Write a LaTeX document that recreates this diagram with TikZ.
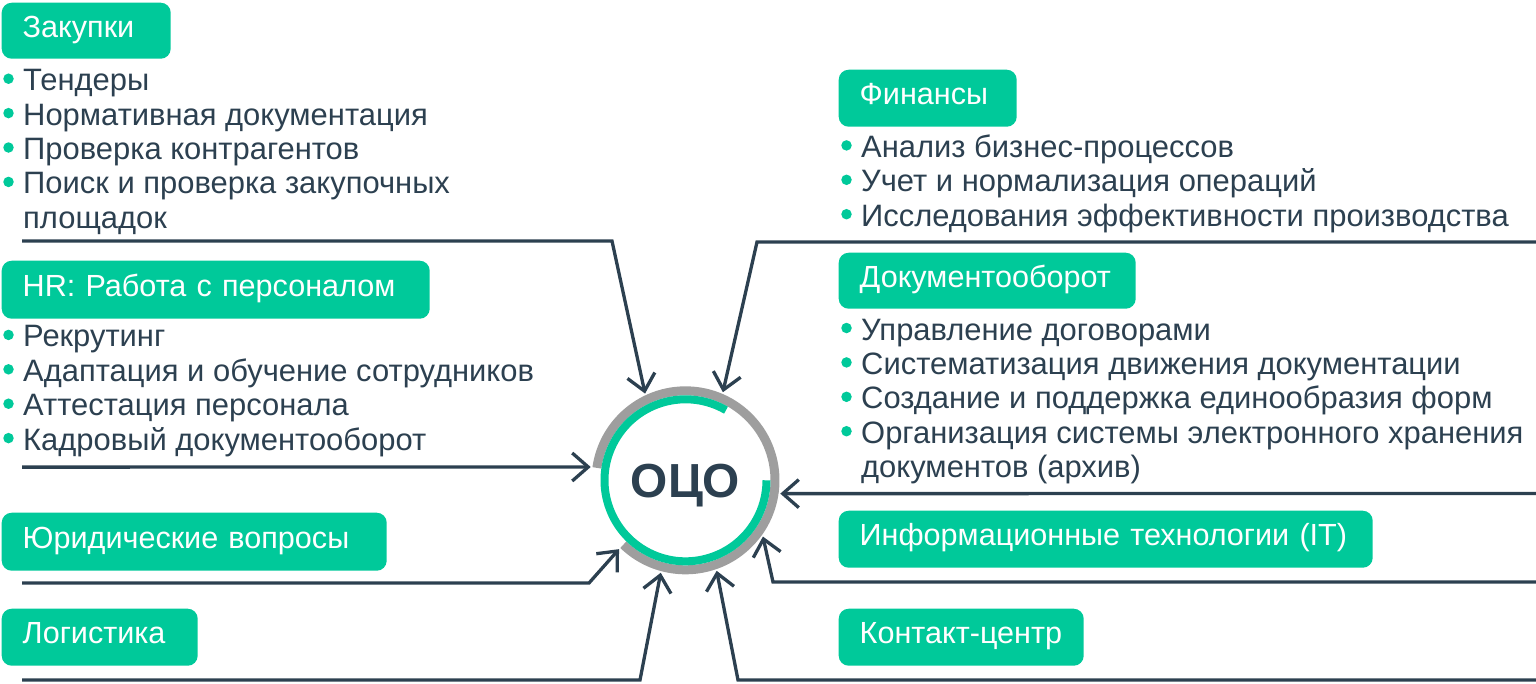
\documentclass[tikz,border=0pt]{standalone}
\usepackage{fontspec}
\setmainfont{Liberation Sans}
\usetikzlibrary{positioning,calc,arrows.meta}
\definecolor{OCOGreen}{RGB}{0,201,154}
\definecolor{OCODark}{RGB}{44,64,80}
\definecolor{OCOGray}{RGB}{158,158,158}

\begin{document}
\begin{tikzpicture}[
    % green header box of a department
    catbox/.style={
        fill=OCOGreen, rounded corners=0.1cm,
        anchor=north west, inner xsep=0.21cm, inner ysep=0pt,
        text=white, align=left,
        font=\fontsize{8.7}{9.8}\selectfont,
        text height=0.215cm, text depth=0.08cm
    },
    % one line of a task list
    item/.style={
        anchor=base west, inner sep=0pt,
        text=OCODark, font=\fontsize{8.8}{9.8}\selectfont
    },
    % green list bullet
    dot/.style={
        circle, fill=OCOGreen, inner sep=0pt, minimum size=0.105cm
    },
    % connector into the centre
    link/.style={
        draw=OCODark, line width=0.033cm,
        -{Straight Barb[length=0.16cm,width=0.28cm]}
    }
]
    \useasboundingbox (0,0) rectangle (15.36,-6.83);

    % --- centre ---
    \node[circle, minimum size=1.9cm, inner sep=0pt, text=OCODark,
          font=\bfseries\fontsize{13.6}{15}\selectfont,
          text height=0.34cm, text depth=0pt] (oco) at (6.855,-4.803) {ОЦО};
    \draw[OCOGray, line width=0.09cm] (oco.center) ++(226:0.895)
        arc[start angle=226, end angle=532, radius=0.895];
    \draw[OCOGreen, line width=0.08cm] (oco.center) ++(60:0.81)
        arc[start angle=60, end angle=360, radius=0.81];

    % --- left column ---
    \node[catbox, text width=1.27cm, minimum height=0.56cm] (zak) at (0.01,-0.02) {Закупки};
    \foreach \t [count=\i] in {Тендеры, Нормативная документация, Проверка контрагентов, Поиск и проверка закупочных} {
        \node[item] (zak\i) at (0.225,{-0.563-\i*0.344}) {\t};
        \node[dot] (zakdot\i) at ($(zak\i.base west)+(-0.14,0.12)$) {};
    }
    \node[item] (zak5) at (0.225,-2.283) {площадок};

    \node[catbox, text width=3.86cm, minimum height=0.58cm] (hr) at (0.01,-2.60) {HR: Работа с персоналом};
    \foreach \t [count=\i] in {Рекрутинг, Адаптация и обучение сотрудников, Аттестация персонала, Кадровый документооборот} {
        \node[item] (hr\i) at (0.225,{-3.125-\i*0.344}) {\t};
        \node[dot] (hrdot\i) at ($(hr\i.base west)+(-0.14,0.12)$) {};
    }

    \node[catbox, text width=3.43cm, minimum height=0.58cm] (jur) at (0.01,-5.12) {Юридические вопросы};
    \node[catbox, text width=1.54cm, minimum height=0.57cm] (log) at (0.01,-6.08) {Логистика};

    % --- right column ---
    \node[catbox, text width=1.36cm, minimum height=0.57cm] (fin) at (8.38,-0.69) {Финансы};
    \foreach \t [count=\i] in {Анализ бизнес-процессов, Учет и нормализация операций, Исследования эффективности производства} {
        \node[item] (fin\i) at (8.605,{-1.23-\i*0.344}) {\t};
        \node[dot] (findot\i) at ($(fin\i.base west)+(-0.14,0.12)$) {};
    }

    \node[catbox, text width=2.55cm, minimum height=0.56cm] (doc) at (8.38,-2.52) {Документооборот};
    \foreach \t [count=\i] in {Управление договорами, Систематизация движения документации, Создание и поддержка единообразия форм, Организация системы электронного хранения} {
        \node[item] (doc\i) at (8.605,{-3.056-\i*0.344}) {\t};
        \node[dot] (docdot\i) at ($(doc\i.base west)+(-0.14,0.12)$) {};
    }
    \node[item] (doc5) at (8.605,-4.776) {документов (архив)};

    \node[catbox, text width=4.92cm, minimum height=0.57cm] (it) at (8.38,-5.10) {Информационные технологии (IT)};
    \node[catbox, text width=2.03cm, minimum height=0.57cm] (kc) at (8.38,-6.08) {Контакт-центр};

    % --- connectors ---
    \coordinate (zakend) at (0.22,-2.41);
    \coordinate (hrend)  at (0.22,-4.671);
    \coordinate (jurend) at (0.22,-5.83);
    \coordinate (logend) at (0.22,-6.80);
    \coordinate (finend) at (15.36,-2.42);
    \coordinate (docend) at (15.36,-4.935);
    \coordinate (itend)  at (15.36,-5.82);
    \coordinate (kcend)  at (15.36,-6.80);

    \draw[link] (zakend) -- ++(5.90,0) -- (oco.115);
    \draw[link] (hrend) -- (oco.172);
    \draw[link] (jurend) -- ++(5.67,0) -- (oco.226);
    \draw[link] (logend) -- ++(6.18,0) -- (oco.255);
    \draw[link] (finend) -- ++(-7.79,0) -- (oco.67);
    \draw[link] (docend) -- (oco.-8);
    \draw[link] (itend) -- ++(-7.63,0) -- (oco.-36);
    \draw[link] (kcend) -- ++(-7.98,0) -- (oco.-71);

\end{tikzpicture}
\end{document}
